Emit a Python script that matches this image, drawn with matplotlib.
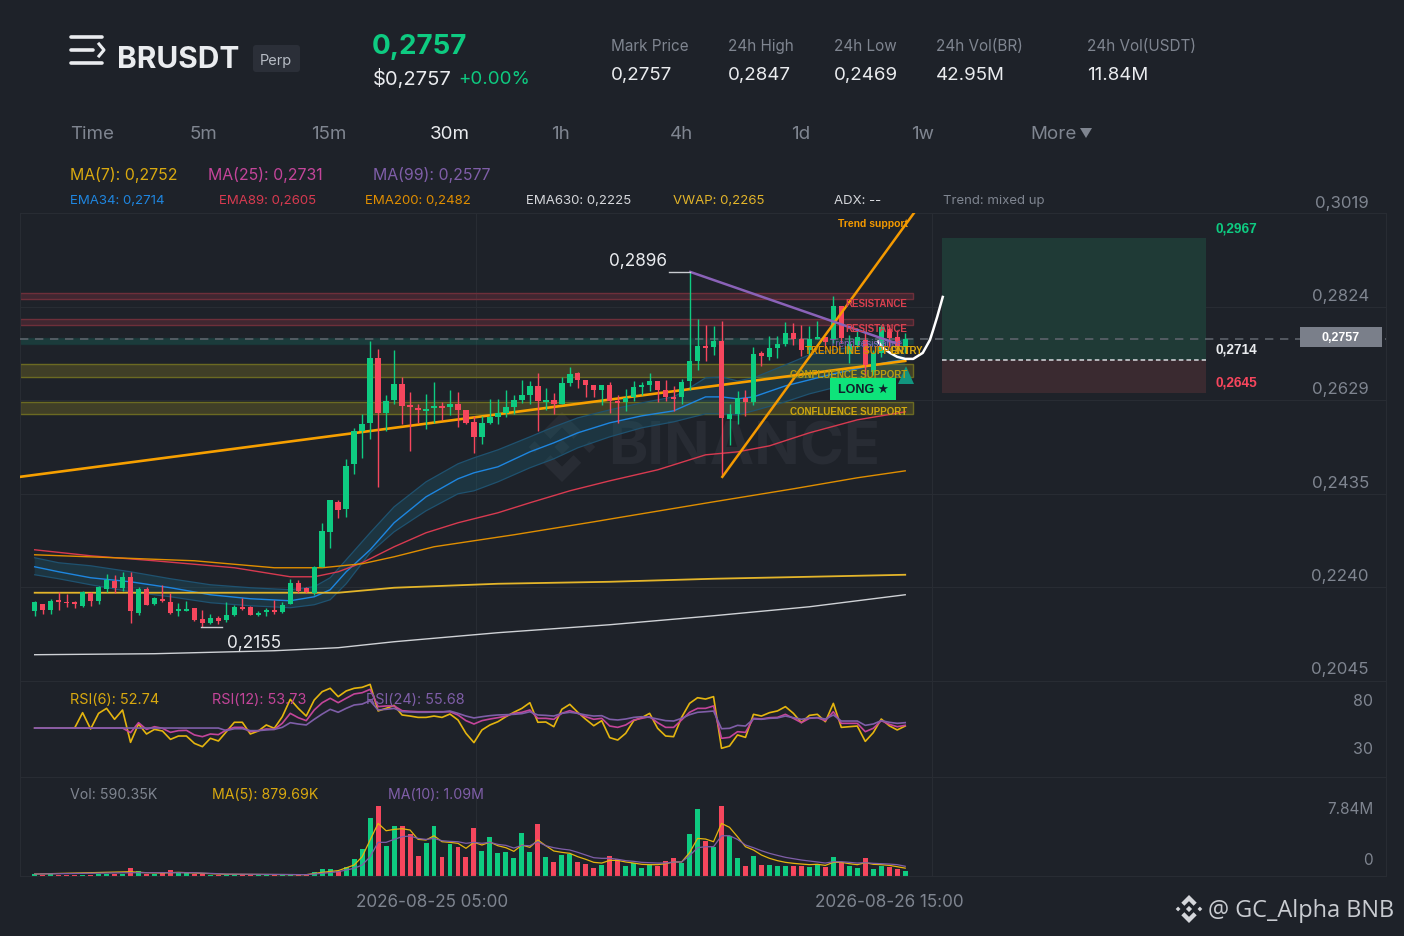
import numpy as np
import matplotlib
matplotlib.use("Agg")
import matplotlib.pyplot as plt
from matplotlib.patches import Polygon, Rectangle, FancyBboxPatch

# bougies 30m
open_p = [.21913,.22058,.21920,.22128,.22100,.22086,.22017,.22280,.22107,.22363,
          .22530,.22384,.22613,.21864,.22356,.22045,.22155,.22093,.21913,.21913,
          .21968,.21733,.21656,.21767,.21719,.21823,.21989,.21982,.21823,.21885,
          .21927,.21892,.22058,.22495,.22384,.22280,.22823,.23550,.24181,.24029,
          .24964,.25657,.25817,.27182,.26038,.26302,.26621,.26198,.26128,.26066,
          .26122,.26177,.26156,.26219,.26094,.25831,.25526,.25810,.25948,.26025,
          .26149,.26302,.26406,.26593,.26260,.26288,.26205,.26648,.26856,.26704,
          .26614,.26510,.26600,.26282,.26247,.26351,.26559,.26600,.26690,.26503,
          .26358,.26351,.26684,.27113,.27418,.27404,.27522,.25907,.26004,.26337,
          .26254,.27286,.27203,.27390,.27466,.27702,.27563,.27335,.27577,.27605,
          .27570,.28263,.27252,.27446,.27550,.26891,.27272,.27778,.27619,.27411]
high_p = [.22121,.22058,.22155,.22301,.22259,.22121,.22315,.22301,.22426,.22675,
          .22654,.22710,.22710,.22405,.22398,.22204,.22453,.22280,.22065,.22114,
          .21968,.21934,.21851,.21802,.22093,.22024,.22169,.22003,.21906,.21961,
          .22142,.22093,.22571,.22544,.22412,.22835,.23738,.24223,.24209,.25068,
          .25713,.26011,.27528,.27362,.26406,.27341,.26787,.26468,.26219,.26426,
          .26669,.26260,.26510,.26461,.26094,.25969,.25969,.26322,.26322,.26496,
          .26406,.26704,.26697,.26870,.26544,.26440,.26787,.26988,.26891,.26718,
          .26614,.26600,.26683,.26392,.26531,.26684,.26670,.26857,.26690,.26718,
          .26580,.26739,.28957,.27986,.27862,.27848,.27945,.26212,.26476,.26503,
          .27404,.27328,.27633,.27633,.27924,.27910,.27861,.27841,.27945,.27605,
          .28464,.28263,.27654,.27792,.27723,.27342,.27861,.27861,.27757,.27688]
low_p = [.21809,.21837,.21851,.21920,.21989,.21968,.21989,.22003,.22051,.22308,
         .22280,.22315,.21656,.21823,.22031,.22031,.22093,.21837,.21809,.21913,
         .21705,.21573,.21643,.21629,.21677,.21795,.21920,.21823,.21795,.21795,
         .21851,.21871,.22058,.22287,.22280,.22246,.22823,.23225,.23842,.23862,
         .24763,.25082,.25484,.24479,.25657,.26205,.25803,.25228,.25817,.25692,
         .25817,.25886,.25983,.25733,.25803,.25186,.25387,.25803,.25803,.25941,
         .26011,.26232,.26219,.25643,.26094,.26011,.26205,.26593,.26551,.26371,
         .26371,.26198,.26038,.25817,.26060,.26268,.26392,.26489,.26254,.26282,
         .26060,.26212,.26510,.26919,.27113,.27238,.24729,.25367,.25796,.25956,
         .26198,.27009,.27134,.27182,.27418,.27446,.27224,.27238,.27577,.27376,
         .27480,.27480,.27065,.27376,.26787,.26822,.27203,.27411,.27342,.27272]
close_p = [.22093,.21920,.22107,.22086,.22065,.22051,.22308,.22114,.22412,.22544,
           .22391,.22613,.21899,.22356,.22031,.22183,.22114,.21871,.21954,.21948,
           .21726,.21663,.21767,.21705,.21830,.21989,.21954,.21830,.21857,.21934,
           .21892,.22038,.22495,.22329,.22308,.22821,.23571,.24209,.24015,.24930,
           .25657,.25803,.27182,.26038,.26267,.26634,.26177,.26156,.26094,.26108,
           .26177,.26142,.26219,.26094,.25824,.25526,.25810,.25934,.26025,.26149,
           .26302,.26399,.26593,.26281,.26302,.26219,.26648,.26849,.26718,.26614,
           .26510,.26600,.26267,.26226,.26337,.26559,.26614,.26697,.26503,.26365,
           .26309,.26677,.27106,.27418,.27377,.27529,.25921,.25997,.26337,.26261,
           .27259,.27210,.27390,.27466,.27702,.27563,.27342,.27570,.27612,.27515,
           .28263,.27584,.27459,.27605,.27030,.27272,.27827,.27584,.27411,.27570]

# moyennes sur le graphique principal
band_idx = [0,3,7,12,17,22,27,32,35,37,39,42,45,49,53,55,58,62,65,68,72,76,80,82,84,86,88,90,94,97,100,104,107,109]
ema34 = [.22827,.22723,.22599,.22515,.22391,.22245,.22162,.22120,.22203,.22349,.22723,.23181,.23743,.24283,.24658,.24783,.24908,
         .25219,.25407,.25615,.25823,.25968,.26072,.26218,.26363,.26363,.26322,.26363,.26592,.26717,.26842,.26987,.27091,.27140]
band_up = [.23015,.22911,.22848,.22723,.22578,.22453,.22391,.22349,.22412,.22599,.22973,.23535,.24075,.24595,.24970,.25095,.25261,
           .25531,.25739,.25927,.26093,.26239,.26363,.26551,.26759,.26779,.26696,.26759,.27029,.27237,.27341,.27445,.27507,.27549]
band_low = [.22661,.22578,.22453,.22307,.22203,.22079,.22016,.21975,.22037,.22141,.22474,.23119,.23555,.23992,.24346,.24408,.24595,
            .24887,.25074,.25303,.25531,.25719,.25843,.25927,.26010,.26010,.25989,.26072,.26260,.26426,.26551,.26676,.26759,.26821]
ema89_idx = [0,7,15,25,32,35,38,41,45,49,53,58,62,67,72,78,84,88,92,97,103,109]
ema89 = [.23181,.23056,.22952,.22807,.22619,.22619,.22723,.22911,.23243,.23535,.23743,.23951,.24159,.24408,.24616,.24845,.25157,
         .25219,.25344,.25615,.25885,.26052]
ema200_idx = [0,10,20,30,36,41,45,50,60,70,73,85,95,103,109]
ema200 = [.23077,.23015,.22952,.22807,.22807,.22890,.23035,.23244,.23493,.23763,.23847,.24179,.24450,.24679,.24824]
ema630_idx = [0,15,30,38,45,58,72,85,97,109]
ema630 = [.20997,.21018,.21080,.21143,.21267,.21455,.21621,.21808,.21995,.22245]
vwap_idx = [0,38,45,58,72,85,97,109]
vwap = [.22287,.22287,.22391,.22474,.22515,.22578,.22619,.22661]

# lignes tracees a la main
trend_main_x, trend_main_y = [-1.84,109], [.24699,.27112]
trend_up_x, trend_up_y = [86.1,110.1], [.24699,.30191]
trend_res_x, trend_res_y = [82.1,107.7], [.28963,.27487]
cup_x = [105.6,106.2,107.1,108,109,110,111.2,112.1,112.5,113,113.7]
cup_y = [.27513,.27383,.27279,.27196,.27154,.27154,.27279,.27549,.27757,.28027,.28443]

# zones et position
res_zones = [(.28396,.28527),(.27861,.27992)]
sup_zones = [(.26786,.27050),(.26004,.26266)]
entry_zone = (.27466,.27597)
tp_price, entry_price, sl_price, last_price = .2967, .2714, .2645, .2757
high_label, low_label = .2896, .2155
price_ticks = [.3019,.2824,.2629,.2435,.2240,.2045]
price_labels = ["0,3019","0,2824","0,2629","0,2435","0,2240","0,2045"]

rsi6 = [51.0,51.0,51.0,51.0,51.0,51.0,67.0,50.0,66.3,71.5,60.1,69.8,36.1,55.2,44.8,49.6,47.9,39.2,42.7,42.7,
        35.0,31.6,40.3,37.5,47.2,57.0,57.0,44.8,47.9,54.2,50.7,62.8,80.9,71.5,63.5,80.2,88.9,92.4,83.7,89.6,
        92.4,93.4,96.5,68.8,71.5,74.6,64.6,63.5,62.1,62.1,63.5,62.1,65.6,59.4,45.5,35.8,49.0,54.2,57.6,62.8,
        67.4,71.5,77.4,57.0,57.3,52.4,70.5,75.7,67.4,60.1,53.4,58.7,41.0,38.5,45.5,58.7,61.8,66.3,50.7,42.7,
        42.0,62.1,76.7,82.6,81.2,83.7,29.9,32.3,43.8,41.3,65.3,63.5,67.0,68.8,73.3,66.3,56.6,64.2,65.3,57.6,
        76.7,51.7,52.4,53.1,37.1,46.2,60.4,53.4,49.0,53.1]
rsi12 = [51.0,51.0,51.0,51.0,51.0,51.0,51.0,51.0,51.0,51.0,51.0,51.0,46.2,56.6,49.6,52.4,50.7,46.5,48.3,48.6,
         43.8,42.0,44.8,44.1,49.0,51.7,51.7,47.2,48.3,50.0,49.6,55.9,66.3,61.8,58.7,69.8,77.4,82.0,77.4,82.0,
         86.5,87.8,91.3,73.3,74.0,74.0,69.1,68.4,68.0,68.0,68.0,68.0,68.0,64.6,58.7,55.2,58.7,60.4,61.8,63.5,
         66.3,67.4,69.8,61.1,61.1,60.1,66.3,69.1,66.3,62.8,60.1,61.1,53.1,51.7,54.2,59.4,61.1,62.8,56.6,51.7,
         51.7,59.4,67.4,71.5,71.5,74.0,40.3,41.3,47.2,46.5,61.1,60.4,61.8,62.1,65.3,61.1,56.6,61.1,61.8,58.7,
         68.0,55.9,55.9,55.9,47.2,50.7,58.7,54.9,52.4,53.8]
rsi24 = [51.0,51.0,51.0,51.0,51.0,51.0,51.0,51.0,51.0,51.0,51.0,51.0,51.0,51.0,51.0,51.0,51.0,51.0,51.0,51.0,
         51.0,51.0,51.0,51.0,48.3,50.3,50.3,48.3,48.3,49.0,49.6,51.7,56.6,55.2,54.2,60.1,65.6,70.5,67.4,71.5,
         75.0,76.0,79.5,69.8,70.5,71.5,68.0,67.7,67.4,67.4,67.7,67.7,68.7,66.3,63.5,61.5,62.8,63.9,64.6,64.9,
         65.3,66.0,68.0,64.6,64.2,63.5,66.3,67.4,66.3,64.6,63.5,63.9,60.1,59.4,60.4,62.1,62.8,62.1,60.4,58.7,
         58.3,61.1,64.9,67.4,68.0,68.7,50.3,50.7,53.8,53.1,60.4,60.1,61.1,61.5,63.5,61.8,60.1,61.5,61.8,60.4,
         64.6,58.3,58.3,58.3,53.8,55.2,58.7,57.0,55.9,56.6]

# volumes en millions
volume = [.22,.15,.19,.15,.15,.15,.15,.15,.19,.19,.22,.22,.90,.56,.22,.22,.30,.63,.37,.34,
          .19,.26,.11,.15,.11,.11,.11,.11,.07,.07,.07,.07,.11,.07,.07,.41,.82,.78,.52,1.04,
          1.87,3.06,6.45,7.84,3.36,5.60,5.60,4.66,2.24,3.73,5.60,2.13,3.62,3.21,2.16,5.33,2.80,4.40,2.61,2.69,
          2.01,4.77,2.69,5.78,2.16,1.53,2.35,2.46,1.60,1.34,.93,1.23,2.24,1.87,1.12,1.42,.90,1.23,1.16,1.68,
          2.01,1.49,4.66,7.46,3.92,3.21,7.84,4.48,2.01,1.16,2.28,1.19,1.23,1.16,1.12,1.12,1.16,1.04,1.31,1.01,
          2.16,1.49,1.16,.93,2.01,.82,1.16,1.01,.75,.59]
vol_idx = [0,12,14,16,18,20,24,34,36,38,40,41,42,43,44,45,46,47,48,49,50,51,52,53,54,55,56,57,58,59,60,61,62,63,64,65,66,67,68,69,
           70,71,72,73,74,75,76,77,78,79,80,81,82,83,84,85,86,87,88,89,90,91,92,93,94,95,96,97,98,99,100,101,102,103,104,105,106,107,108,109]
vol_ma5 = [.22,.48,.37,.34,.41,.34,.19,.15,.41,.60,1.23,2.16,4.03,5.89,5.07,5.22,5.30,5.15,4.10,4.03,4.51,3.84,3.77,3.66,3.10,3.77,3.47,3.80,3.39,3.17,
           2.76,3.47,3.21,4.03,3.39,2.80,2.65,2.54,2.16,1.87,1.53,1.45,1.75,1.75,1.57,1.45,1.31,1.27,1.27,1.38,1.57,1.57,2.61,4.21,4.14,3.84,5.89,5.45,4.40,3.28,
           2.91,2.35,1.98,1.72,1.53,1.42,1.34,1.27,1.31,1.19,1.53,1.53,1.38,1.27,1.49,1.31,1.27,1.19,1.04,.88]
vol_ma10 = [.22,.37,.37,.37,.37,.37,.22,.15,.30,.48,.86,1.23,2.16,3.77,3.77,4.10,4.40,4.48,4.21,4.10,4.21,3.95,3.88,3.84,3.66,3.77,3.66,3.77,3.54,3.43,
            3.13,3.43,3.39,3.84,3.39,3.17,3.02,2.91,2.65,2.35,2.05,1.98,1.98,1.87,1.72,1.64,1.53,1.49,1.45,1.45,1.57,1.57,2.28,3.17,3.28,3.28,4.51,4.51,4.10,3.47,
            3.17,2.83,2.54,2.31,2.09,1.94,1.79,1.68,1.57,1.45,1.60,1.60,1.53,1.45,1.49,1.42,1.38,1.34,1.27,1.09]

BG = "#1e2229"
GRID = "#282c33"
GREEN = "#0ecb81"
RED = "#f6465d"
GRAY = "#7f8590"
YEL = "#d9a90f"
MAG = "#c4459a"
PUR = "#7f5ea8"
BOLD = "Liberation Sans"

plt.rcParams['font.family'] = ['Inter', 'DejaVu Sans']

W, H = 1404, 936
fig = plt.figure(figsize=(W/100, H/100), dpi=100, facecolor=BG)

def make_ax(top, bottom, z=2):
    a = fig.add_axes([20/W, 1-bottom/H, (1386-20)/W, (bottom-top)/H], zorder=z)
    a.patch.set_alpha(0)
    for s in a.spines.values():
        s.set_color(GRID)
    a.set_xlim(-1.84, 169.2)
    a.tick_params(length=0, labelleft=False, labelbottom=False)
    a.set_xticks([55.27, 112.38])
    a.grid(True, color=GRID, lw=0.8)
    a.set_axisbelow(True)
    return a

back = fig.add_axes([0, 0, 1, 1], zorder=0)
back.set_xlim(0, W); back.set_ylim(H, 0); back.axis("off")
ax = make_ax(213, 681)
ax_rsi = make_ax(681, 777)
ax_vol = make_ax(777, 876)
top = fig.add_axes([0, 0, 1, 1], zorder=5)
top.set_xlim(0, W); top.set_ylim(H, 0); top.axis("off")
top.patch.set_alpha(0)

def logo(a, cx, cy, s, color):
    parts = [[(0,-.22),(.22,0),(0,.22),(-.22,0)],
             [(-.78,-.17),(-.61,0),(-.78,.17),(-.95,0)],
             [(.78,-.17),(.95,0),(.78,.17),(.61,0)],
             [(0,-1),(.55,-.45),(.33,-.23),(0,-.56),(-.33,-.23),(-.55,-.45)],
             [(0,1),(.55,.45),(.33,.23),(0,.56),(-.33,.23),(-.55,.45)]]
    for p in parts:
        a.add_patch(Polygon([(cx+s*u, cy+s*v) for u, v in p], fc=color, ec="none"))

# filigrane
logo(back, 562, 447, 35, "#282c34")
back.text(608, 449, "BINANCE", color="#282c34", fontsize=43, fontweight="bold", va="center", ha="left")

# graphique principal
ax.set_ylim(.2045, .3019)
ax.set_yticks(price_ticks)

for lo, hi in res_zones:
    ax.add_patch(Rectangle((-1.84, lo), 111.84, hi-lo, fc="#f6465d", alpha=.16, ec="none", zorder=2))
    ax.add_patch(Rectangle((-1.84, lo), 111.84, hi-lo, fc="none", ec="#6e2f3a", lw=1, zorder=2))
for lo, hi in sup_zones:
    ax.add_patch(Rectangle((-1.84, lo), 111.84, hi-lo, fc="#c9b81f", alpha=.2, ec="none", zorder=2))
    ax.add_patch(Rectangle((-1.84, lo), 111.84, hi-lo, fc="none", ec="#6b6a22", lw=1, zorder=2))
ax.add_patch(Rectangle((-1.84, entry_zone[0]), 111.84, entry_zone[1]-entry_zone[0], fc="#12957f", alpha=.22, ec="#15544f", lw=1, zorder=2))

ax.add_patch(Rectangle((113.65, entry_price), 33.05, tp_price-entry_price, fc="#1f3a36", ec="none", zorder=1))
ax.add_patch(Rectangle((113.65, sl_price), 33.05, entry_price-sl_price, fc="#3a2a30", ec="none", zorder=1))
ax.plot([113.65, 146.7], [entry_price, entry_price], color="#d8dbe0", lw=1.1, ls=(0, (3, 2)), zorder=3)
ax.plot([-1.84, 169.2], [last_price, last_price], color="#5d626b", lw=1.2, ls=(0, (5, 4)), zorder=3)

ax.fill(band_idx + band_idx[::-1], band_up + band_low[::-1], color="#1b6f86", alpha=.26, lw=0, zorder=2.5)
ax.plot(band_idx, band_up, color="#1f5270", lw=.9, zorder=2.6)
ax.plot(band_idx, band_low, color="#1f5270", lw=.9, zorder=2.6)
ax.plot(band_idx, ema34, color="#1e86e0", lw=1, zorder=3)
ax.plot(ema89_idx, ema89, color="#d83a50", lw=1, zorder=3)
ax.plot(ema200_idx, ema200, color="#e08e00", lw=1, zorder=3)
ax.plot(ema630_idx, ema630, color="#cfd2d6", lw=1, zorder=3)
ax.plot(vwap_idx, vwap, color="#e3b52a", lw=1.3, zorder=3)

ax.plot(trend_main_x, trend_main_y, color="#f7a000", lw=1.9, zorder=4)

idx = np.arange(len(open_p))
op, hi, lo, cl = map(np.array, (open_p, high_p, low_p, close_p))
col = [GREEN if c >= o else RED for o, c in zip(op, cl)]
ax.vlines(idx, lo, hi, colors=col, lw=1, zorder=5)
ax.bar(idx, np.maximum(np.abs(cl-op), .00012), bottom=np.minimum(op, cl), width=.68, color=col, lw=0, zorder=5)

ax.plot(trend_up_x, trend_up_y, color="#f59a00", lw=1.8, zorder=6)
ax.plot(trend_res_x, trend_res_y, color="#8a62b8", lw=1.8, zorder=6)
ax.plot(cup_x, cup_y, color="white", lw=1.8, zorder=7)

# RSI
ax_rsi.set_ylim(0, 100)
ax_rsi.set_yticks([])
ax_rsi.plot(idx, rsi6, color="#e5b50f", lw=1.2)
ax_rsi.plot(idx, rsi12, color=MAG, lw=1.2)
ax_rsi.plot(idx, rsi24, color=PUR, lw=1.2)

# volumes
ax_vol.set_ylim(0, 11.09)
ax_vol.set_yticks([])
ax_vol.bar(idx, volume, width=.62, color=col, lw=0)
ax_vol.plot(vol_idx, vol_ma5, color="#e5b50f", lw=.9)
ax_vol.plot(vol_idx, vol_ma10, color=PUR, lw=.9)

def t(x, y, s, c, size, ha="left", w="normal", fam=None):
    kw = {"family": fam} if fam else {}
    top.text(x, y+1.3, s, color=c, fontsize=size, ha=ha, va="center", fontweight=w, **kw)

# icone et entete
for x0, x1, y in [(71, 102, 37), (71, 93, 50), (71, 102, 63)]:
    top.plot([x0, x1], [y, y], color="#eaecef", lw=2.6, solid_capstyle="round")
top.plot([99, 104, 99], [44, 50, 56], color="#eaecef", lw=2.2)
t(117, 59, "BRUSDT", "#eaecef", 21.5, w="bold")
top.add_patch(FancyBboxPatch((253, 45), 47, 27, boxstyle="round,pad=0,rounding_size=3", fc="#2b2f38", ec="none"))
t(276, 60, "Perp", "#b7bcc4", 10.5, ha="center")
t(372, 46, "0,2757", GREEN, 20, w="bold")
t(373, 78, "$0,2757", "#eaecef", 14.5)
t(458, 78, "+0.00%", GREEN, 13.5)

for x, a, b in [(611, "Mark Price", "0,2757"), (728, "24h High", "0,2847"), (834, "24h Low", "0,2469"),
                (936, "24h Vol(BR)", "42.95M"), (1087, "24h Vol(USDT)", "11.84M")]:
    t(x, 45, a, GRAY, 11)
    t(x, 74, b, "#eaecef", 13.5)

for x, s in [(70, "Time"), (190, "5m"), (311, "15m"), (551, "1h"), (670, "4h"), (791, "1d"), (911, "1w"), (1030, "More")]:
    t(x, 133, s, GRAY, 13.5)
t(430, 133, "30m", "#eaecef", 13.5)
top.add_patch(Polygon([(1080, 128), (1092, 128), (1086, 138)], fc=GRAY, ec="none"))

t(70, 174, "MA(7): 0,2752", YEL, 11.4)
t(208, 174, "MA(25): 0,2731", MAG, 11.4)
t(373, 174, "MA(99): 0,2577", PUR, 11.4)
t(70, 200, "EMA34: 0,2714", "#1e86e0", 9.5)
t(219, 200, "EMA89: 0,2605", "#d83a50", 9.5)
t(365, 200, "EMA200: 0,2482", "#e08e00", 9.5)
t(526, 200, "EMA630: 0,2225", "#d5d7db", 9.5)
t(673, 200, "VWAP: 0,2265", "#e3b52a", 9.5)
t(834, 200, "ADX: --", "#d5d7db", 9.5)
t(943, 200, "Trend: mixed up", GRAY, 9.5)

# graduations
for lab, y in zip(price_labels, [202, 295, 388, 482, 575, 668]):
    t(1369, y, lab, GRAY, 12.1, ha="right")
t(1373, 700, "80", GRAY, 11.5, ha="right")
t(1373, 748, "30", GRAY, 11.5, ha="right")
t(1373, 808, "7.84M", GRAY, 11, ha="right")
t(1373, 859, "0", GRAY, 11, ha="right")
t(432, 901, "2026-08-25 05:00", GRAY, 12.3, ha="center")
t(889, 901, "2026-08-26 15:00", GRAY, 12.3, ha="center")

t(70, 699, "RSI(6): 52.74", YEL, 10.4)
t(212, 699, "RSI(12): 53.73", MAG, 10.4)
t(366, 699, "RSI(24): 55.68", PUR, 10.4)
t(70, 794, "Vol: 590.35K", GRAY, 10.2)
t(212, 794, "MA(5): 879.69K", YEL, 10.2)
t(388, 794, "MA(10): 1.09M", PUR, 10.2)

# annotations
t(638, 260, "0,2896", "#eaecef", 12.4, ha="center")
t(254, 642, "0,2155", "#eaecef", 12.4, ha="center")
top.plot([669, 690], [272, 272], color="#c9ccd1", lw=1)
top.plot([201, 222], [627, 627], color="#c9ccd1", lw=1)

t(908, 223, "Trend support", "#f59a00", 7.5, ha="right", w="bold", fam=BOLD)
t(907, 303, "RESISTANCE", "#d8404f", 7, ha="right", w="bold", fam=BOLD)
t(907, 328, "RESISTANCE", "#d8404f", 7, ha="right", w="bold", fam=BOLD)
t(830, 343, "Trend resistance", "#8a62b8", 7, fam=BOLD)
t(805, 350, "TRENDLINE SUPPORT", "#d98e00", 7, w="bold", fam=BOLD)
t(923, 350, "ENTRY", "#d9a90f", 7, ha="right", w="bold", fam=BOLD)
t(907, 374, "CONFLUENCE SUPPORT", "#b89c10", 7, ha="right", w="bold", fam=BOLD)
t(907, 411, "CONFLUENCE SUPPORT", "#d0a80f", 7, ha="right", w="bold", fam=BOLD)

top.add_patch(Polygon([(898, 384), (914, 384), (906, 366)], fc="#12957f", ec="none"))
top.add_patch(Rectangle((830, 378), 66, 22, fc="#0ee37a", ec="none"))
top.text(863, 390, "LONG \u2605", color="#10202a", fontsize=9, fontweight="bold", ha="center", va="center",
         family=[BOLD, "DejaVu Sans"])

t(1216, 227, "0,2967", GREEN, 9.8, w="bold", fam=BOLD)
t(1216, 348, "0,2714", "#eaecef", 9.8, w="bold", fam=BOLD)
t(1216, 381, "0,2645", RED, 9.8, w="bold", fam=BOLD)

top.add_patch(Rectangle((1300, 327), 82, 20, fc="#7a7f8a", ec="none"))
t(1341, 336.5, "0,2757", "white", 9, ha="center", w="bold", fam=BOLD)

logo(top, 1189, 909, 14, "#d5d7db")
t(1208, 910, "@ GC_Alpha BNB", "#c9ccd1", 16.9, fam="Open Sans")

fig.savefig("out.png", dpi=100, facecolor=BG)
